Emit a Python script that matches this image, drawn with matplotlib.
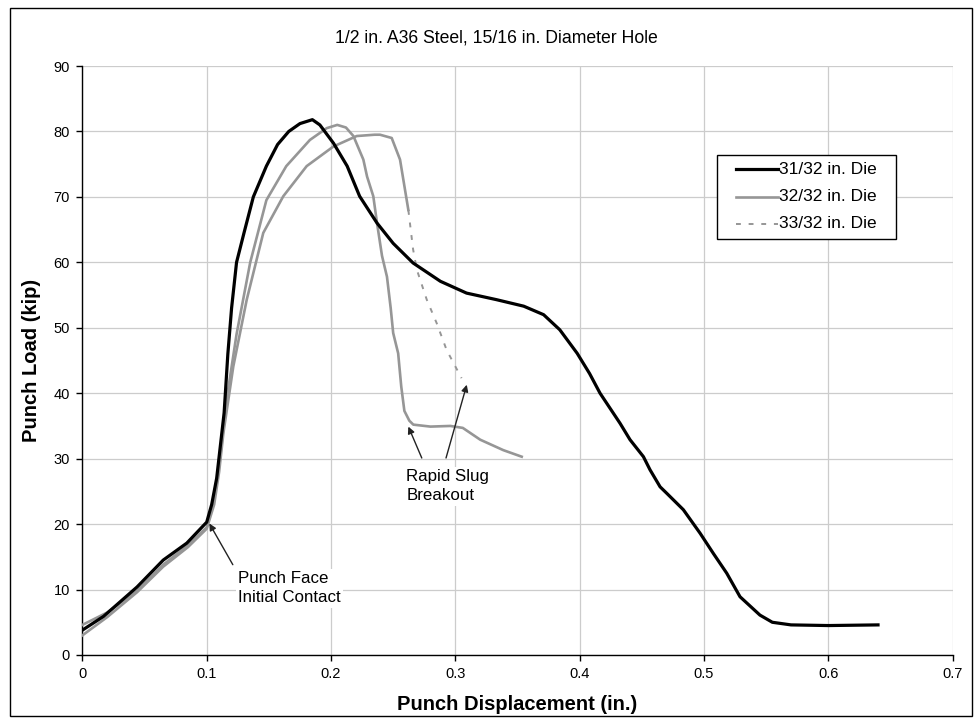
import matplotlib
matplotlib.use("Agg")
import matplotlib.pyplot as plt
from matplotlib.patches import Rectangle
from matplotlib.lines import Line2D

plt.rcParams['font.family'] = ['Liberation Sans', 'DejaVu Sans']

# 31/32 in. die
x_3132 = [0.0, 0.017, 0.044, 0.065, 0.084, 0.100, 0.104, 0.108, 0.111, 0.114, 0.117, 0.120,
          0.124, 0.130, 0.1375, 0.148, 0.157, 0.166, 0.175, 0.185, 0.191, 0.202, 0.213,
          0.223, 0.237, 0.250, 0.266, 0.288, 0.309, 0.333, 0.355, 0.371, 0.384, 0.398,
          0.408, 0.4164, 0.4325, 0.4405, 0.4513, 0.4566, 0.4647, 0.4701, 0.4834, 0.4969,
          0.5076, 0.5183, 0.529, 0.545, 0.555, 0.570, 0.600, 0.640]
y_3132 = [3.8, 5.9, 10.4, 14.5, 17.1, 20.3, 23.0, 27.0, 32.0, 37.0, 46.0, 53.0,
          60.0, 64.5, 70.0, 74.7, 78.0, 80.0, 81.2, 81.8, 81.0, 78.2, 74.7,
          70.1, 66.0, 62.9, 59.9, 57.1, 55.3, 54.3, 53.3, 52.0, 49.7, 46.1,
          43.0, 40.0, 35.4, 32.9, 30.3, 28.3, 25.7, 24.7, 22.2, 18.6,
          15.5, 12.5, 8.9, 6.1, 5.0, 4.6, 4.5, 4.6]

# 32/32 in. die
x_3232 = [0.0, 0.020, 0.044, 0.065, 0.085, 0.100, 0.105, 0.110, 0.116, 0.124, 0.135,
          0.148, 0.164, 0.183, 0.1965, 0.205, 0.212, 0.218, 0.226, 0.229, 0.234, 0.237,
          0.241, 0.245, 0.248, 0.250, 0.254, 0.2565, 0.259, 0.263, 0.2662, 0.280,
          0.296, 0.306, 0.320, 0.3386, 0.3534]
y_3232 = [4.6, 6.5, 9.8, 13.8, 16.8, 19.5, 23.0, 29.0, 39.0, 49.0, 60.0,
          69.5, 74.7, 78.7, 80.5, 81.0, 80.6, 79.3, 75.7, 73.1, 70.1, 66.0,
          61.0, 57.8, 53.0, 49.2, 46.1, 41.0, 37.3, 35.8, 35.2, 34.9,
          35.0, 34.7, 32.9, 31.3, 30.3]

# 33/32 in. die
x_3332 = [0.0, 0.020, 0.044, 0.065, 0.085, 0.100, 0.106, 0.110, 0.1134, 0.1214, 0.1322,
          0.1455, 0.1616, 0.1804, 0.2019, 0.2207, 0.235, 0.2394, 0.2488, 0.2555, 0.2595,
          0.2622, 0.266, 0.269, 0.277, 0.285, 0.293, 0.305]
y_3332 = [3.0, 5.8, 9.6, 13.5, 16.5, 19.3, 23.0, 28.0, 33.9, 44.1, 54.3,
          64.5, 70.1, 74.7, 77.7, 79.3, 79.5, 79.5, 79.0, 75.7, 71.1,
          68.0, 62.0, 58.9, 54.3, 50.7, 46.6, 42.3]
# index where the sparse breakout readings begin
breakout_3332 = 21

labels = ["31/32 in. Die", "32/32 in. Die", "33/32 in. Die"]

GRAY = '#969696'
styles = [dict(color='black', lw=2.3),
          dict(color=GRAY, lw=1.9),
          dict(color=GRAY, lw=1.4, linestyle=(0, (2.5, 4)))]

W, H = 977, 721
fig = plt.figure(figsize=(W / 100, H / 100), dpi=100)
ax = fig.add_axes([82.4 / W, 1 - 655 / H, 870.2 / W, 589 / H])

ax.plot(x_3132, y_3132, zorder=5, **styles[0])
ax.plot(x_3232, y_3232, zorder=4, **styles[1])
ax.plot(x_3332[:breakout_3332 + 1], y_3332[:breakout_3332 + 1], zorder=3,
        **{**styles[1]})
ax.plot(x_3332[breakout_3332:], y_3332[breakout_3332:], zorder=3, **styles[2])

ax.set_xlim(0, 0.7)
ax.set_ylim(0, 90)
ax.set_xticks([0, 0.1, 0.2, 0.3, 0.4, 0.5, 0.6, 0.7])
ax.set_xticklabels(["0", "0.1", "0.2", "0.3", "0.4", "0.5", "0.6", "0.7"])
ax.set_yticks(range(0, 91, 10))
ax.grid(True, color='#cccccc', lw=0.9)
ax.set_axisbelow(True)
for s in ['top', 'right']:
    ax.spines[s].set_visible(False)
ax.spines['left'].set_linewidth(1.0)
ax.spines['bottom'].set_linewidth(1.0)
ax.tick_params(direction='out', length=4, width=1, labelsize=10.5, pad=5)

fig.text(496 / W, 1 - 38 / H, "1/2 in. A36 Steel, 15/16 in. Diameter Hole",
         fontsize=12.7, ha='center', va='center')
ax.set_xlabel("Punch Displacement (in.)", fontsize=14.5, fontweight='bold', labelpad=10)
ax.set_ylabel("Punch Load (kip)", fontsize=14.5, fontweight='bold', labelpad=9)

# annotations
box = dict(boxstyle='square,pad=0.15', fc='white', ec='none')
arrow = dict(arrowstyle='-|>', color='#222222', lw=1, shrinkA=0, shrinkB=0, mutation_scale=10)
ax.text(0.1253, 10.2, "Punch Face\nInitial Contact", fontsize=12.2, ha='left', va='center',
        linespacing=1.3, bbox=box, zorder=6)
ax.annotate("", xy=(0.1021, 20.1), xytext=(0.121, 13.8), arrowprops=arrow, zorder=7)
ax.text(0.2605, 25.8, "Rapid Slug\nBreakout", fontsize=12.2, ha='left', va='center',
        linespacing=1.35, bbox=box, zorder=6)
ax.annotate("", xy=(0.2622, 34.9), xytext=(0.273, 30.1), arrowprops=arrow, zorder=7)
ax.annotate("", xy=(0.3092, 41.3), xytext=(0.2925, 30.1), arrowprops=arrow, zorder=7)

# legend box
fig.add_artist(Rectangle((716.7 / W, 1 - 239.3 / H), 179.3 / W, 84.3 / H,
                         transform=fig.transFigure, fc='white', ec='black', lw=1.0, zorder=8))
for i, (lab, st) in enumerate(zip(labels, styles)):
    yy = 1 - (169.3 + 27.35 * i) / H
    fig.add_artist(Line2D([736 / W, 778 / W], [yy, yy], transform=fig.transFigure,
                          zorder=9, **st))
    fig.text(779 / W, yy, lab, fontsize=12.5, ha='left', va='center', zorder=9)

# outer chart border
fig.add_artist(Rectangle((10 / W, 1 - 716 / H), 962 / W, 708 / H, transform=fig.transFigure,
                         fill=False, ec='black', lw=1.0))

fig.savefig("out.png", dpi=100)
